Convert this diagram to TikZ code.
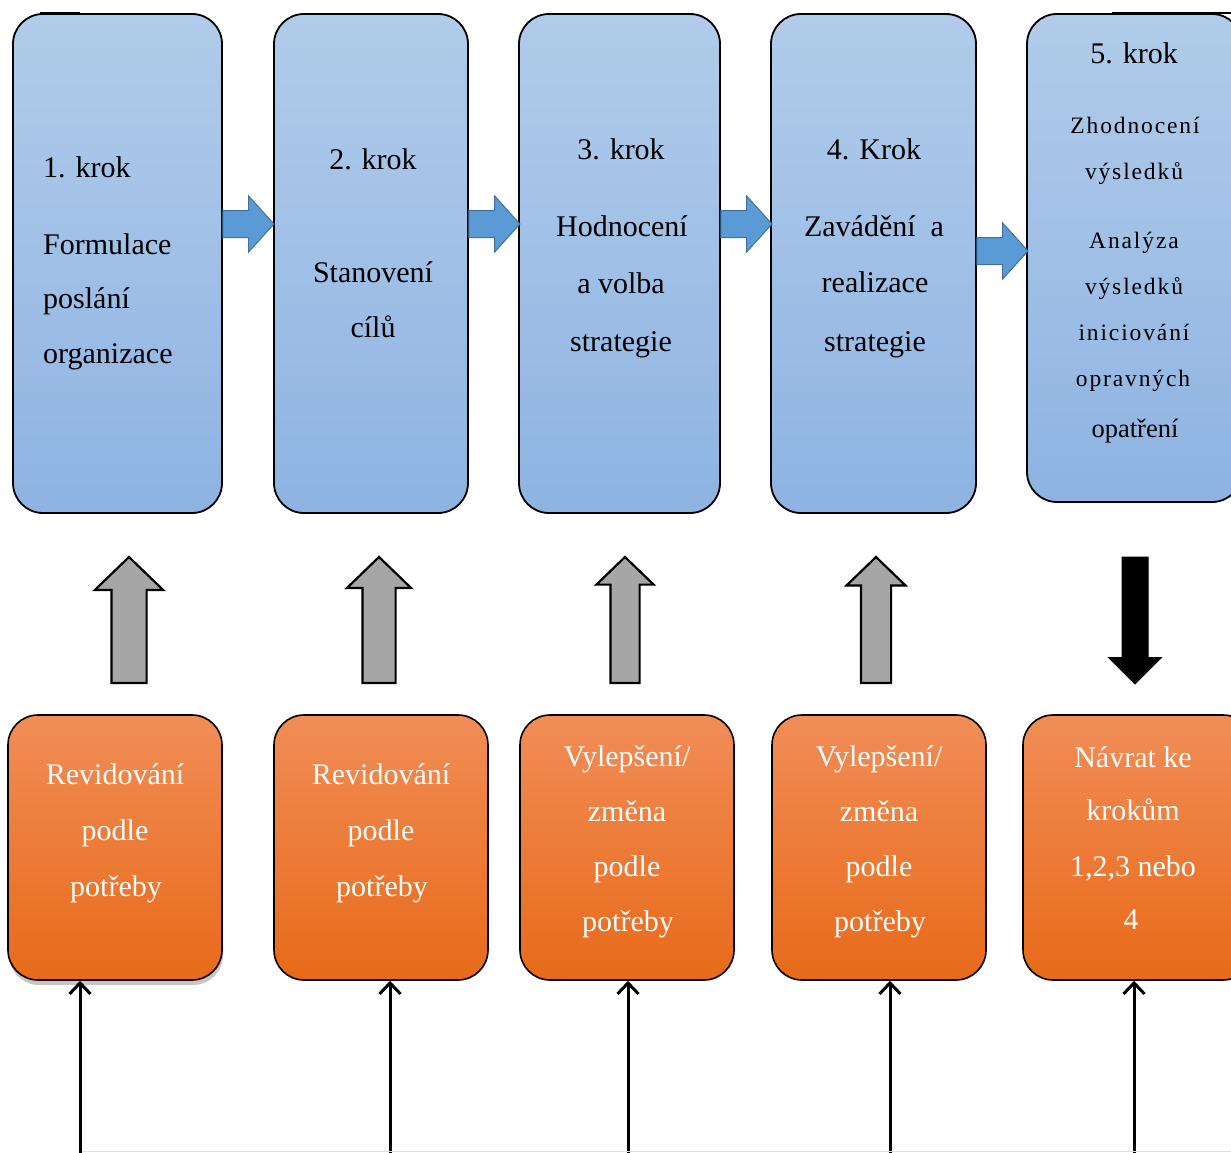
\documentclass[tikz,border=0pt]{standalone}
\usepackage{fontspec}
\setmainfont{Liberation Serif}
\newfontfamily\spacedfont[LetterSpace=8]{Liberation Serif}
\usetikzlibrary{shapes.arrows,arrows.meta,shadows}
\definecolor{bluetop}{HTML}{B1CCEA}
\definecolor{bluebot}{HTML}{8EB3E2}
\definecolor{orangetop}{HTML}{F18D57}
\definecolor{orangebot}{HTML}{E86A19}
\definecolor{arrowblue}{HTML}{5B9BD5}
\definecolor{arrowblueline}{HTML}{41719C}
\definecolor{arrowgray}{HTML}{A6A6A6}
\tikzset{
  bluebox/.style={draw=black, line width=1.8pt, rounded corners=30pt, top color=bluetop, bottom color=bluebot, inner sep=0pt},
  orangebox/.style={draw=black, line width=1.6pt, rounded corners=30pt, top color=orangetop, bottom color=orangebot, inner sep=0pt},
  rightarrow/.style={single arrow, draw=arrowblueline, fill=arrowblue, line width=1pt, inner xsep=0pt, inner ysep=13pt, minimum width=55pt, minimum height=51pt, single arrow head extend=14.5pt, single arrow tip angle=96, anchor=tail, outer sep=0pt},
  uparrow/.style={single arrow, draw=black, fill=arrowgray, line width=2.2pt, rotate=90, inner xsep=0pt, minimum height=126pt, single arrow tip angle=92, anchor=tail, outer sep=0pt},
  downarrow/.style={single arrow, draw=black, fill=black, line width=1pt, rotate=-90, inner xsep=0pt, inner ysep=12.5pt, minimum width=52pt, minimum height=127pt, single arrow head extend=13.5pt, single arrow tip angle=90, anchor=tail, outer sep=0pt},
  btxt/.style={font=\fontsize{30}{30}\selectfont, inner sep=0pt},
  stxt/.style={font=\spacedfont\fontsize{23.5}{23.5}\selectfont, inner sep=0pt},
  wtxt/.style={font=\fontsize{30}{30}\selectfont, text=white, inner sep=0pt},
  feedline/.style={line width=3pt, -{Straight Barb[length=11pt,width=21pt,line width=3pt]}},
}
\begin{document}
\begin{tikzpicture}[x=1pt,y=-1pt]
\useasboundingbox (0,0) rectangle (1231,1153);
\clip (0,0) rectangle (1231,1153);
% blue step boxes
\node[bluebox, minimum width=209pt, minimum height=499pt] (b1) at (117.5,263.5) {};
\node[bluebox, minimum width=194pt, minimum height=499pt] (b2) at (371,263.5) {};
\node[bluebox, minimum width=201pt, minimum height=499pt] (b3) at (619.5,263.5) {};
\node[bluebox, minimum width=205pt, minimum height=499pt] (b4) at (873.5,263.5) {};
\node[bluebox, minimum width=215pt, minimum height=488pt] (b5) at (1134.5,258) {};
% stray top strokes
\draw[line width=2pt] (40,13) coordinate (s1a) -- (80,13) coordinate (s1b);
\draw[line width=2pt] (1112,13) coordinate (s5a) -- (1231,13) coordinate (s5b);
% step texts
\node[btxt, anchor=west] (t11) at (43,167) {1. krok};
\node[btxt, anchor=west] (t12) at (43,244) {Formulace};
\node[btxt, anchor=west] (t13) at (43,301) {poslání};
\node[btxt, anchor=west] (t14) at (43,357) {organizace};
\node[btxt] (t21) at (373,159) {2. krok};
\node[btxt] (t22) at (373,272) {Stanovení};
\node[btxt] (t23) at (373,327) {cílů};
\node[btxt] (t31) at (621,149) {3. krok};
\node[btxt] (t32) at (622,226) {Hodnocení};
\node[btxt] (t33) at (621,283) {a volba};
\node[btxt] (t34) at (621,345) {strategie};
\node[btxt] (t41) at (874,149) {4. Krok};
\node[btxt] (t42) at (874,226) {Zavádění\ \ a};
\node[btxt] (t43) at (875,282) {realizace};
\node[btxt] (t44) at (875,345) {strategie};
\node[btxt] (t51) at (1134,53) {5. krok};
\node[stxt] (t52) at (1135,125) {Zhodnocení};
\node[stxt] (t53) at (1134,174) {výsledků};
\node[stxt] (t54) at (1134,243) {Analýza};
\node[stxt] (t55) at (1134,289) {výsledků};
\node[stxt] (t56) at (1134,332) {iniciování};
\node[stxt] (t57) at (1133,381) {opravných};
\node[font=\fontsize{26.5}{26.5}\selectfont, inner sep=0pt] (t58) at (1135,431) {opatření};
% blue arrows between steps
\node[rightarrow] (a12) at (b1.east |- 0,224) {};
\node[rightarrow] (a23) at (b2.east |- 0,224) {};
\node[rightarrow] (a34) at (b3.east |- 0,224) {};
\node[rightarrow] (a45) at (b4.east |- 0,251) {};
% orange boxes
\node[orangebox, minimum width=214pt, minimum height=265pt, drop shadow={shadow xshift=1pt, shadow yshift=-5pt, opacity=0.45}] (o1) at (115,847.5) {};
\node[orangebox, minimum width=214pt, minimum height=265pt] (o2) at (381,847.5) {};
\node[orangebox, minimum width=214pt, minimum height=265pt] (o3) at (627,847.5) {};
\node[orangebox, minimum width=214pt, minimum height=265pt] (o4) at (879,847.5) {};
\node[orangebox, minimum width=230pt, minimum height=265pt] (o5) at (1138,847.5) {};
% orange texts
\node[wtxt] (u11) at (115,774) {Revidování};
\node[wtxt] (u12) at (115,833) {podle};
\node[wtxt] (u13) at (116,889) {potřeby};
\node[wtxt] (u21) at (381,774) {Revidování};
\node[wtxt] (u22) at (381,833) {podle};
\node[wtxt] (u23) at (382,889) {potřeby};
\node[wtxt] (u31) at (627,759) {Vylepšení/};
\node[wtxt] (u32) at (627,811) {změna};
\node[wtxt] (u33) at (627,869) {podle};
\node[wtxt] (u34) at (628,924) {potřeby};
\node[wtxt] (u41) at (879,759) {Vylepšení/};
\node[wtxt] (u42) at (879,811) {změna};
\node[wtxt] (u43) at (879,869) {podle};
\node[wtxt] (u44) at (880,924) {potřeby};
\node[wtxt] (u51) at (1133,757) {Návrat ke};
\node[wtxt] (u52) at (1133,810) {krokům};
\node[wtxt] (u53) at (1133,868) {1,2,3 nebo};
\node[wtxt] (u54) at (1131,920) {4};
% vertical block arrows
\node[uparrow, inner ysep=16.5pt, minimum width=66pt, single arrow head extend=16.5pt] (g1) at (129,683) {};
\node[uparrow, inner ysep=15.5pt, minimum width=62pt, single arrow head extend=15.5pt] (g2) at (379,683) {};
\node[uparrow, inner ysep=13.5pt, minimum width=55pt, single arrow head extend=14pt] (g3) at (625,683) {};
\node[uparrow, inner ysep=14pt, minimum width=57pt, single arrow head extend=14.5pt] (g4) at (876,683) {};
\node[downarrow] (k5) at (1135,557) {};
% feedback inputs
\coordinate (f1) at (80,1153);
\coordinate (f2) at (390,1153);
\coordinate (f3) at (628,1153);
\coordinate (f4) at (890,1153);
\coordinate (f5) at (1134,1153);
\draw[feedline] (f1) -- (f1 |- o1.south);
\draw[feedline] (f2) -- (f2 |- o2.south);
\draw[feedline] (f3) -- (f3 |- o3.south);
\draw[feedline] (f4) -- (f4 |- o4.south);
\draw[feedline] (f5) -- (f5 |- o5.south);
\draw[line width=0.8pt, black!12] (f1) ++(2,-1.5) coordinate (h0) -- (1231,1151.5) coordinate (h1);
\end{tikzpicture}
\end{document}
